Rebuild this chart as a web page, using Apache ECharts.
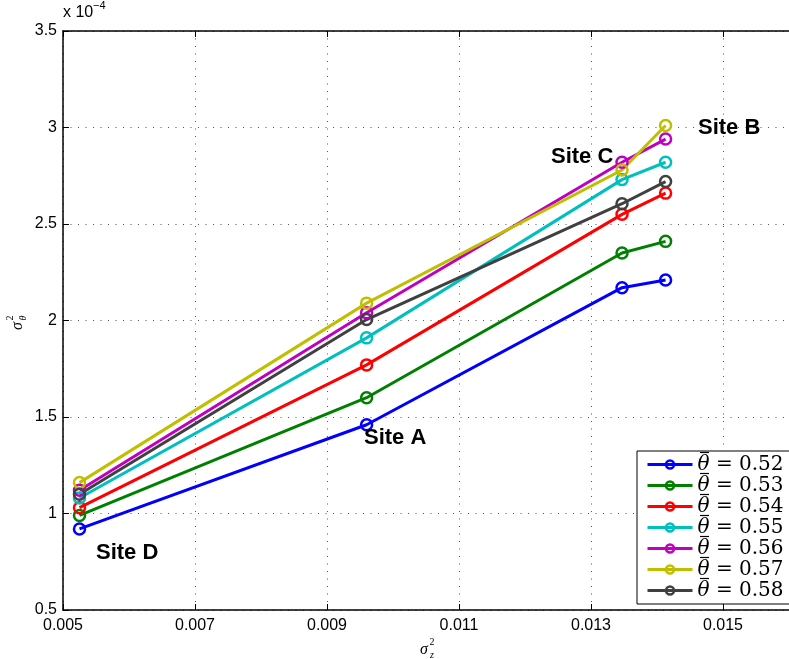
<!DOCTYPE html>
<html>
<head>
<meta charset="utf-8">
<script src="https://cdn.jsdelivr.net/npm/echarts@6/dist/echarts.min.js"></script>
<style>
  html, body { margin: 0; padding: 0; background: #fff; }
  #chart { width: 789px; height: 659px; }
</style>
</head>
<body>
<div id="chart"></div>
<script>
// sigma_z^2 at the four sites (D, A, C, B)
const sigmaZ = [0.00525, 0.0096, 0.01347, 0.01413];

// sigma_theta^2 (x 1e-4) for each mean soil moisture level
const theta052 = [0.92, 1.46, 2.17, 2.21];
const theta053 = [0.99, 1.60, 2.35, 2.41];
const theta054 = [1.03, 1.77, 2.55, 2.66];
const theta055 = [1.08, 1.91, 2.73, 2.82];
const theta056 = [1.12, 2.04, 2.82, 2.94];
const theta057 = [1.16, 2.09, 2.78, 3.01];
const theta058 = [1.10, 2.005, 2.605, 2.72];

const seriesNames = ['0.52', '0.53', '0.54', '0.55', '0.56', '0.57', '0.58'];
const seriesValues = [theta052, theta053, theta054, theta055, theta056, theta057, theta058];
const seriesColors = ['#0000ff', '#008000', '#ff0000', '#00bfbf', '#bf00bf', '#bfbf00', '#404040'];

const xTicks = { min: 0.005, max: 0.016, interval: 0.002 };
const yTicks = { min: 0.5, max: 3.5, interval: 0.5 };

const siteLabels = [
  { text: 'Site A', left: 364, top: 427 },
  { text: 'Site B', left: 698, top: 117 },
  { text: 'Site C', left: 551, top: 146 },
  { text: 'Site D', left: 96, top: 542 }
];

const tickFont = { fontFamily: 'Liberation Sans', fontSize: 16, color: '#000' };
const dotted = { color: '#555', width: 1, type: [1, 6.5] };

// legend box geometry
const legendBox = { left: 637, top: 451, rowHeight: 21, padTop: 3 };

const chart = echarts.init(document.getElementById('chart'), null, { renderer: 'canvas' });

const series = seriesNames.map((name, i) => ({
  name: name,
  type: 'line',
  data: sigmaZ.map((x, j) => [x, seriesValues[i][j]]),
  symbol: 'circle',
  symbolSize: 11,
  showAllSymbol: true,
  lineStyle: { width: 3, color: seriesColors[i] },
  itemStyle: { color: 'rgba(255,255,255,0)', borderColor: seriesColors[i], borderWidth: 2.5 },
  emphasis: { disabled: true },
  animation: false
}));

function sigmaLabel(x, y, sub, rot) {
  return {
    type: 'group',
    x: x, y: y, rotation: rot,
    children: [
      { type: 'text', x: 0, y: 0, style: { text: 'σ', font: 'italic 16px "Liberation Serif"', fill: '#000', textAlign: 'center', textVerticalAlign: 'middle' } },
      { type: 'text', x: 8, y: -8, style: { text: '2', font: '10px "Liberation Serif"', fill: '#000', textAlign: 'center', textVerticalAlign: 'middle' } },
      { type: 'text', x: 8, y: 5, style: { text: sub, font: 'italic 10px "Liberation Serif"', fill: '#000', textAlign: 'center', textVerticalAlign: 'middle' } }
    ]
  };
}

// bar accents over the theta symbol of each legend row
const thetaBars = seriesNames.map((n, k) => {
  const cy = legendBox.top + legendBox.padTop + legendBox.rowHeight * (k + 0.5);
  return {
    type: 'line', z: 200,
    shape: { x1: 700, y1: cy - 12, x2: 709, y2: cy - 12 },
    style: { stroke: '#000', lineWidth: 1.2 }
  };
});

const option = {
  backgroundColor: '#fff',
  animation: false,
  grid: { left: 63, top: 31, width: 736, height: 579, containLabel: false },
  xAxis: [{
    type: 'value',
    min: xTicks.min, max: xTicks.max, interval: xTicks.interval,
    axisLine: { show: true, lineStyle: { color: '#000', width: 1.5 } },
    axisTick: { show: true, inside: true, length: 6, lineStyle: { color: '#000' } },
    axisLabel: { ...tickFont, margin: 8, showMaxLabel: false, formatter: v => v.toFixed(3) },
    splitLine: { show: true, lineStyle: dotted }
  }, {
    type: 'value', position: 'top',
    min: xTicks.min, max: xTicks.max, interval: xTicks.interval,
    axisLine: { show: true, onZero: false, lineStyle: { color: '#000', width: 1.5 } },
    axisTick: { show: true, inside: true, length: 6, lineStyle: { color: '#000' } },
    axisLabel: { show: false },
    splitLine: { show: false }
  }],
  yAxis: [{
    type: 'value',
    min: yTicks.min, max: yTicks.max, interval: yTicks.interval,
    axisLine: { show: true, lineStyle: { color: '#000', width: 1.5 } },
    axisTick: { show: true, inside: true, length: 6, lineStyle: { color: '#000' } },
    axisLabel: { ...tickFont, margin: 6, formatter: v => String(parseFloat(v.toFixed(1))) },
    splitLine: { show: true, lineStyle: dotted }
  }],
  legend: {
    orient: 'vertical',
    left: legendBox.left, top: legendBox.top,
    backgroundColor: '#fff',
    borderColor: '#000', borderWidth: 1,
    padding: [legendBox.padTop, 12, legendBox.padTop, 9],
    itemWidth: 45, itemHeight: 10, itemGap: 0,
    selectedMode: false,
    data: seriesNames,
    lineStyle: { width: 3 },
    itemStyle: { borderWidth: 2.5 },
    formatter: name => '{t|θ} = ' + name,
    textStyle: {
      fontFamily: 'DejaVu Serif', fontSize: 20, color: '#000', lineHeight: 21,
      rich: { t: { fontFamily: 'DejaVu Serif', fontStyle: 'italic', fontSize: 20, lineHeight: 21 } }
    }
  },
  graphic: [
    ...siteLabels.map(s => ({
      type: 'text', left: s.left, top: s.top, z: 100,
      style: { text: s.text, font: 'bold 22px "Liberation Sans"', fill: '#000' }
    })),
    {
      type: 'text', left: 63, top: 5,
      style: { text: 'x 10', font: '16px "Liberation Sans"', fill: '#000' }
    },
    {
      type: 'text', left: 93, top: 0,
      style: { text: '−4', font: '11px "Liberation Sans"', fill: '#000' }
    },
    sigmaLabel(424, 650, 'z', 0),
    sigmaLabel(18, 326, 'θ', Math.PI / 2),
    ...thetaBars
  ],
  series: series
};

chart.setOption(option);
</script>
</body>
</html>
